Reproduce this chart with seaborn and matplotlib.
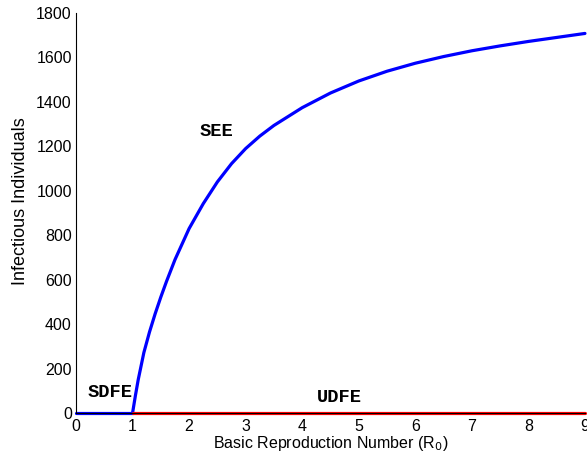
import matplotlib
matplotlib.use("Agg")
import matplotlib.pyplot as plt
import seaborn as sns
import pandas as pd

# Data
sdfe_r = [0.0, 1.0]
sdfe_i = [0, 0]
see_r = [1.0, 1.05, 1.1, 1.2, 1.3, 1.4, 1.5, 1.6, 1.75, 2.0, 2.25, 2.5, 2.75, 3.0,
         3.25, 3.5, 4.0, 4.5, 5.0, 5.5, 6.0, 6.5, 7.0, 7.5, 8.0, 8.5, 9.0]
see_i = [0, 78, 150, 272, 365, 447, 522, 592, 690, 830, 942, 1040, 1122, 1190,
         1246, 1294, 1374, 1440, 1494, 1538, 1574, 1604, 1630, 1652, 1672, 1690, 1708]
udfe_r = [1.0, 9.0]
udfe_i = [0, 0]

x_ticks = [0, 1, 2, 3, 4, 5, 6, 7, 8, 9]
y_ticks = [0, 200, 400, 600, 800, 1000, 1200, 1400, 1600, 1800]

sns.set_style("white")
plt.rcParams['font.family'] = ['Liberation Sans', 'DejaVu Sans']
plt.rcParams['text.color'] = 'black'
plt.rcParams['axes.labelcolor'] = 'black'

fig = plt.figure(figsize=(5.87, 4.61), dpi=100)
ax = fig.add_axes([0.1295, 0.1041, 0.867, 0.8677])

df_sdfe = pd.DataFrame({"R0": sdfe_r, "I": sdfe_i})
df_see = pd.DataFrame({"R0": see_r, "I": see_i})
df_udfe = pd.DataFrame({"R0": udfe_r, "I": udfe_i})

sns.lineplot(data=df_sdfe, x="R0", y="I", color="#0000ff", lw=2.3, ax=ax, clip_on=False)
sns.lineplot(data=df_see, x="R0", y="I", color="#0000ff", lw=2.3, ax=ax, clip_on=False)
sns.lineplot(data=df_udfe, x="R0", y="I", color="#ff0000", lw=2.3, ax=ax, clip_on=False)

ax.set_xlim(0, 9)
ax.set_ylim(0, 1800)
ax.set_xticks(x_ticks)
ax.set_yticks(y_ticks)
ax.set_xticklabels([str(t) for t in x_ticks])
ax.set_yticklabels([str(t) for t in y_ticks])
ax.tick_params(direction="in", length=4, width=0.8, labelsize=11.5, colors="black")
ax.tick_params(axis="x", pad=4)
ax.tick_params(axis="y", pad=3)
for s in ["top", "right"]:
    ax.spines[s].set_visible(False)
for s in ["left", "bottom"]:
    ax.spines[s].set_color("black")
    ax.spines[s].set_linewidth(0.8)

ax.set_xlabel("Basic Reproduction Number (R$_0$)", fontsize=11.5, labelpad=0, color="black")
ax.set_ylabel("Infectious Individuals", fontsize=13, color="black")
ax.yaxis.set_label_coords(-0.093, 0.53)

mono = dict(family=["Liberation Mono", "DejaVu Sans Mono"], fontweight="bold", fontsize=13.5,
            ha="center", va="center", color="black")
ax.text(0.6, 92, "SDFE", **mono)
ax.text(2.49, 1267, "SEE", **mono)
ax.text(4.66, 72, "UDFE", **mono)

fig.savefig("out.png", dpi=100)
